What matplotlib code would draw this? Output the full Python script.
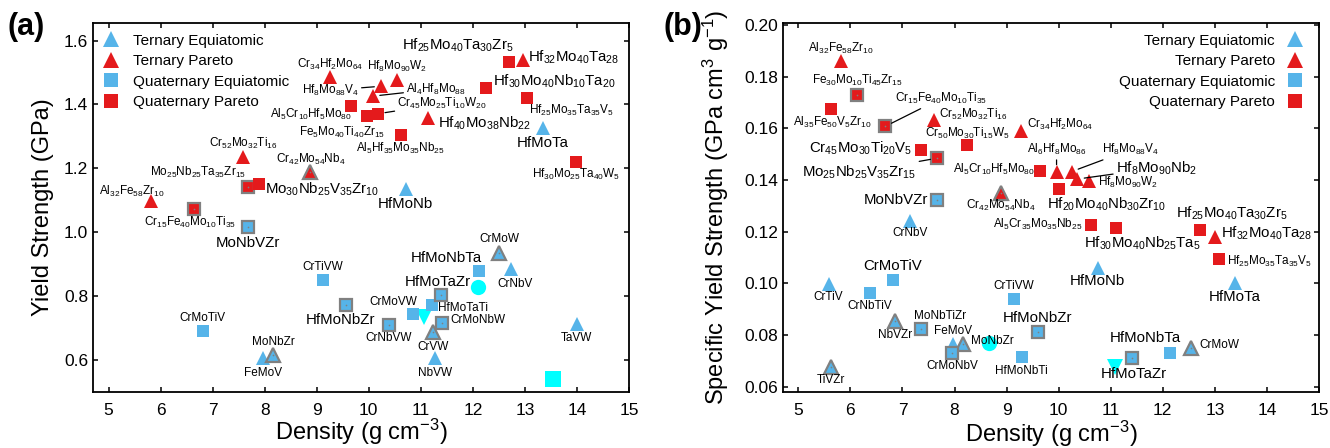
import re
import matplotlib.pyplot as plt
from matplotlib.lines import Line2D
from matplotlib.ticker import FormatStrFormatter

plt.rcParams['font.family'] = ['Liberation Sans', 'DejaVu Sans']
plt.rcParams['mathtext.fontset'] = 'custom'
plt.rcParams['mathtext.rm'] = 'Liberation Sans'
plt.rcParams['mathtext.it'] = 'Liberation Sans:italic'
plt.rcParams['mathtext.bf'] = 'Liberation Sans:bold'

BLUE = '#56B4E9'
RED = '#E41A1C'
CYAN = '#00FFFF'
GREY = '#808080'

# ---------------- panel (a): density vs yield strength ----------------
a_te_names = ['FeMoV', 'MoNbZr', 'CrVW', 'NbVW', 'CrMoW', 'CrNbV', 'TaVW', 'HfMoNb', 'HfMoTa']
a_te_x = [7.97, 8.16, 11.24, 11.28, 12.51, 12.73, 14.00, 10.71, 13.34]
a_te_y = [0.605, 0.616, 0.687, 0.606, 0.935, 0.885, 0.713, 1.136, 1.326]

a_tp_names = ['Al32Fe58Zr10', 'Cr52Mo32Ti16', 'Cr42Mo54Nb4', 'Cr34Hf2Mo64', 'Hf8Mo88V4',
              'Al4Hf8Mo88', 'Hf8Mo90W2', 'Hf40Mo38Nb22', 'Hf32Mo40Ta28']
a_tp_x = [5.82, 7.59, 8.88, 9.26, 10.24, 10.08, 10.54, 11.14, 12.97]
a_tp_y = [1.097, 1.235, 1.188, 1.486, 1.457, 1.426, 1.478, 1.359, 1.538]

a_qe_names = ['CrMoTiV', 'MoNbVZr', 'CrTiVW', 'HfMoNbZr', 'CrNbVW', 'CrMoVW', 'HfMoTaTi',
              'HfMoTaZr', 'CrMoNbW', 'HfMoNbTa']
a_qe_x = [6.81, 7.68, 9.12, 9.57, 10.38, 10.85, 11.22, 11.38, 11.41, 12.12]
a_qe_y = [0.692, 1.016, 0.851, 0.772, 0.710, 0.744, 0.772, 0.805, 0.715, 0.880]

a_qp_names = ['Cr15Fe40Mo10Ti35', 'Mo25Nb25Ta35Zr15', 'Mo30Nb25V35Zr10', 'Al5Cr10Hf5Mo80',
              'Fe5Mo40Ti40Zr15', 'Cr45Mo25Ti10W20', 'Al5Hf35Mo35Nb25', 'Hf30Mo40Nb10Ta20',
              'Hf25Mo40Ta30Zr5', 'Hf25Mo35Ta35V5', 'Hf30Mo25Ta40W5']
a_qp_x = [6.65, 7.68, 7.89, 9.65, 9.97, 10.18, 10.61, 12.25, 12.70, 13.05, 13.98]
a_qp_y = [1.073, 1.141, 1.152, 1.394, 1.363, 1.371, 1.303, 1.453, 1.533, 1.421, 1.219]

a_marked = ['MoNbZr', 'CrVW', 'CrMoW', 'Cr42Mo54Nb4', 'MoNbVZr', 'HfMoNbZr', 'CrNbVW',
            'HfMoTaZr', 'CrMoNbW', 'Cr15Fe40Mo10Ti35', 'Mo25Nb25Ta35Zr15']

a_cyan_marker = ['o', 'v', 's']
a_cyan_x = [12.09, 11.06, 13.54]
a_cyan_y = [0.828, 0.734, 0.540]

# ---------------- panel (b): density vs specific yield strength ----------------
b_te_names = ['CrTiV', 'TiVZr', 'NbVZr', 'CrNbV', 'FeMoV', 'MoNbZr', 'HfMoNb', 'CrMoW', 'HfMoTa']
b_te_x = [5.58, 5.63, 6.86, 7.14, 7.98, 8.17, 10.75, 12.55, 13.39]
b_te_y = [0.0998, 0.0678, 0.0855, 0.1240, 0.0764, 0.0764, 0.1059, 0.0749, 0.1001]

b_tp_names = ['Al32Fe58Zr10', 'Cr52Mo32Ti16', 'Cr42Mo54Nb4', 'Cr34Hf2Mo64', 'Al6Hf8Mo86',
              'Hf8Mo88V4', 'Hf8Mo90Nb2', 'Hf8Mo90W2', 'Hf32Mo40Ta28']
b_tp_x = [5.82, 7.61, 8.89, 9.28, 9.96, 10.25, 10.36, 10.58, 13.00]
b_tp_y = [0.1862, 0.1634, 0.1352, 0.1591, 0.1433, 0.1433, 0.1404, 0.1395, 0.1181]

b_qe_names = ['CrNbTiV', 'CrMoTiV', 'MoNbTiZr', 'MoNbVZr', 'CrMoNbV', 'CrTiVW', 'HfMoNbTi',
              'HfMoNbZr', 'HfMoTaZr', 'HfMoNbTa']
b_qe_x = [6.37, 6.81, 7.36, 7.67, 7.96, 9.14, 9.29, 9.60, 11.40, 12.14]
b_qe_y = [0.0962, 0.1012, 0.0824, 0.1324, 0.0732, 0.0939, 0.0714, 0.0811, 0.0712, 0.0730]

b_qp_names = ['Al35Fe50V5Zr10', 'Fe30Mo10Ti45Zr15', 'Cr15Fe40Mo10Ti35', 'Cr45Mo30Ti20V5',
              'Mo25Nb25V35Zr15', 'Cr50Mo30Ti15W5', 'Al5Cr10Hf5Mo80', 'Hf20Mo40Nb30Zr10',
              'Al5Cr35Mo35Nb25', 'Hf30Mo40Nb25Ta5', 'Hf25Mo40Ta30Zr5', 'Hf25Mo35Ta35V5']
b_qp_x = [5.63, 6.13, 6.67, 7.35, 7.67, 8.24, 9.65, 10.00, 10.62, 11.10, 12.72, 13.08]
b_qp_y = [0.1675, 0.1728, 0.1608, 0.1517, 0.1485, 0.1534, 0.1436, 0.1365, 0.1227,
          0.1214, 0.1205, 0.1094]

b_marked = ['TiVZr', 'NbVZr', 'MoNbZr', 'CrMoW', 'Cr42Mo54Nb4', 'MoNbTiZr', 'MoNbVZr',
            'CrMoNbV', 'HfMoNbZr', 'HfMoTaZr', 'Fe30Mo10Ti45Zr15', 'Cr15Fe40Mo10Ti35',
            'Mo25Nb25V35Zr15']

b_cyan_marker = ['o', 'v']
b_cyan_x = [8.66, 11.08]
b_cyan_y = [0.0768, 0.0678]

legend_names = ['Ternary Equiatomic', 'Ternary Pareto', 'Quaternary Equiatomic', 'Quaternary Pareto']

# label layout: name -> (dx px, dy px, large font?, leader line?)
a_labels = {
    'Al32Fe58Zr10': (-19, 10, 0, 0), 'Cr52Mo32Ti16': (0, 14, 0, 0),
    'Mo25Nb25Ta35Zr15': (-50, 15, 0, 0), 'Mo30Nb25V35Zr10': (63, -6, 1, 0),
    'Cr15Fe40Mo10Ti35': (-4, -14, 0, 0), 'MoNbVZr': (0, -16, 1, 0),
    'Cr42Mo54Nb4': (0, 13, 0, 0), 'CrMoTiV': (0, 13, 0, 0), 'FeMoV': (0, -15, 0, 0),
    'MoNbZr': (0, 13, 0, 0), 'CrTiVW': (0, 13, 0, 0), 'HfMoNbZr': (-6, -15, 1, 0),
    'CrNbVW': (0, -13, 0, 0), 'CrMoVW': (-20, 12, 0, 0), 'HfMoTaTi': (31, -3, 0, 0),
    'HfMoTaZr': (-3, 13, 1, 0), 'CrMoNbW': (36, 3, 0, 0), 'CrVW': (0, -15, 0, 0),
    'NbVW': (0, -15, 0, 0), 'HfMoNbTa': (-33, 13, 1, 0), 'CrMoW': (0, 14, 0, 0),
    'CrNbV': (4, -15, 0, 0), 'TaVW': (0, -14, 0, 0), 'HfMoNb': (0, -15, 1, 0),
    'HfMoTa': (0, -15, 1, 0), 'Hf30Mo25Ta40W5': (0, -12, 0, 0),
    'Hf25Mo35Ta35V5': (44, -13, 0, 0), 'Hf30Mo40Nb10Ta20': (68, 6, 1, 0),
    'Hf25Mo40Ta30Zr5': (-51, 17, 1, 0), 'Hf32Mo40Ta28': (50, 3, 1, 0),
    'Hf40Mo38Nb22': (56, -6, 1, 0), 'Al5Hf35Mo35Nb25': (0, -13, 0, 0),
    'Cr34Hf2Mo64': (0, 13, 0, 0), 'Hf8Mo90W2': (0, 13, 0, 0),
    'Hf8Mo88V4': (-51, -4, 0, 1), 'Al4Hf8Mo88': (63, 7, 0, 1),
    'Cr45Mo25Ti10W20': (64, 10, 0, 1), 'Fe5Mo40Ti40Zr15': (-25, -16, 0, 0),
    'Al5Cr10Hf5Mo80': (-40, -8, 0, 0),
}
b_labels = {
    'Al32Fe58Zr10': (0, 12, 0, 0), 'Fe30Mo10Ti45Zr15': (0, 15, 0, 0),
    'Al35Fe50V5Zr10': (1, -13, 0, 0), 'Cr15Fe40Mo10Ti35': (56, 28, 0, 1),
    'Cr45Mo30Ti20V5': (-60, 2, 1, 0), 'Mo25Nb25V35Zr15': (-78, -14, 1, 1),
    'Cr50Mo30Ti15W5': (0, 12, 0, 0), 'Cr52Mo32Ti16': (39, 5, 0, 0),
    'MoNbVZr': (-41, 0, 1, 0), 'Cr34Hf2Mo64': (39, 6, 0, 0),
    'Al6Hf8Mo86': (0, 22, 0, 1), 'Al5Cr10Hf5Mo80': (-47, 1, 0, 0),
    'Hf8Mo88V4': (59, 22, 0, 1), 'Hf8Mo90Nb2': (79, 11, 1, 1),
    'Hf8Mo90W2': (39, -1, 0, 0), 'Hf20Mo40Nb30Zr10': (48, -15, 1, 0),
    'Cr42Mo54Nb4': (0, -13, 0, 0), 'CrNbV': (0, -12, 0, 0),
    'Al5Cr35Mo35Nb25': (-53, 0, 0, 0), 'Hf30Mo40Nb25Ta5': (26, -15, 1, 0),
    'Hf25Mo40Ta30Zr5': (32, 17, 1, 0), 'Hf32Mo40Ta28': (52, 3, 1, 0),
    'Hf25Mo35Ta35V5': (50, -2, 0, 0), 'HfMoNb': (0, -13, 1, 0),
    'HfMoTa': (0, -14, 1, 0), 'CrTiVW': (0, 13, 0, 0), 'HfMoNbZr': (0, 14, 1, 0),
    'HfMoNbTi': (0, -14, 0, 0), 'HfMoNbTa': (-25, 15, 1, 0), 'HfMoTaZr': (2, -16, 1, 0),
    'CrMoW': (28, 3, 0, 0), 'MoNbZr': (29, 3, 0, 0), 'CrTiV': (0, -13, 0, 0),
    'CrNbTiV': (0, -13, 0, 0), 'CrMoTiV': (0, 14, 1, 0), 'NbVZr': (0, -14, 0, 0),
    'MoNbTiZr': (19, 13, 0, 0), 'FeMoV': (0, 13, 0, 0), 'CrMoNbV': (0, -13, 0, 0),
    'TiVZr': (0, -13, 0, 0),
}


def chem(name):
    return re.sub(r'(\d+)', r'$_{\1}$', name)


def draw_panel(ax, groups, marked, cyan, labels):
    pos = {}
    for names, xs, ys, mk, col in groups:
        for n, x, y in zip(names, xs, ys):
            pos[n] = (x, y)
            ms = 10.5 if mk == '^' else 9
            if n in marked:
                ax.plot(x, y, marker=mk, ms=ms, mfc=col, mec=GREY, mew=1.6, ls='none', zorder=3)
                ax.plot(x, y, marker='o', ms=1.2, mfc=GREY, mec='none', ls='none', zorder=4)
            else:
                ax.plot(x, y, marker=mk, ms=ms, mfc=col, mew=0, ls='none', zorder=3)
    for mk, x, y in zip(*cyan):
        ax.plot(x, y, marker=mk, ms=12 if mk == 's' else 11, mfc=CYAN, mew=0, ls='none', zorder=2)
    for n, (dx, dy, big, leader) in labels.items():
        kw = {}
        if leader:
            kw['arrowprops'] = dict(arrowstyle='-', lw=0.9, color='black', shrinkA=0, shrinkB=5)
        ax.annotate(chem(n), pos[n], xytext=(dx, dy), textcoords='offset pixels',
                    ha='center', va='center', fontsize=10.8 if big else 8.5, zorder=5, **kw)


def style(ax):
    ax.set_xlim(4.7, 15)
    ax.set_xticks(range(5, 16))
    for s in ax.spines.values():
        s.set_linewidth(1.3)
    ax.tick_params(direction='in', top=True, right=True, length=3.5, width=1.1, labelsize=12.5)
    ax.tick_params(axis='x', pad=8)


def legend_handles():
    return [Line2D([], [], marker='^', ls='none', ms=12, mfc=BLUE, mew=0),
            Line2D([], [], marker='^', ls='none', ms=12, mfc=RED, mew=0),
            Line2D([], [], marker='s', ls='none', ms=10, mfc=BLUE, mew=0),
            Line2D([], [], marker='s', ls='none', ms=10, mfc=RED, mew=0)]


fig = plt.figure(figsize=(13.3, 4.48), dpi=100)
ax1 = fig.add_axes([0.0699, 0.125, 0.403, 0.8237])
ax2 = fig.add_axes([0.5885, 0.125, 0.4032, 0.8237])

draw_panel(ax1, [(a_te_names, a_te_x, a_te_y, '^', BLUE), (a_tp_names, a_tp_x, a_tp_y, '^', RED),
                 (a_qe_names, a_qe_x, a_qe_y, 's', BLUE), (a_qp_names, a_qp_x, a_qp_y, 's', RED)],
           a_marked, (a_cyan_marker, a_cyan_x, a_cyan_y), a_labels)
draw_panel(ax2, [(b_te_names, b_te_x, b_te_y, '^', BLUE), (b_tp_names, b_tp_x, b_tp_y, '^', RED),
                 (b_qe_names, b_qe_x, b_qe_y, 's', BLUE), (b_qp_names, b_qp_x, b_qp_y, 's', RED)],
           b_marked, (b_cyan_marker, b_cyan_x, b_cyan_y), b_labels)

style(ax1)
ax1.set_ylim(0.5, 1.655)
ax1.set_yticks([0.6, 0.8, 1.0, 1.2, 1.4, 1.6])
ax1.yaxis.set_major_formatter(FormatStrFormatter('%.1f'))
ax1.set_xlabel('Density (g cm$^{-3}$)', fontsize=17, labelpad=-1)
ax1.set_ylabel('Yield Strength (GPa)', fontsize=17, labelpad=7)
ax1.legend(legend_handles(), legend_names, loc='upper left', frameon=False, fontsize=11,
           handlelength=1.0, handletextpad=0.9, labelspacing=0.43, borderaxespad=0.3)

style(ax2)
ax2.set_ylim(0.058, 0.2008)
ax2.set_yticks([0.06, 0.08, 0.10, 0.12, 0.14, 0.16, 0.18, 0.20])
ax2.yaxis.set_major_formatter(FormatStrFormatter('%.2f'))
ax2.set_xlabel('Density (g cm$^{-3}$)', fontsize=17, labelpad=0.5)
ax2.set_ylabel('Specific Yield Strength (GPa cm$^3$ g$^{-1}$)', fontsize=17, labelpad=9)
ax2.legend(legend_handles(), legend_names, loc='upper right', bbox_to_anchor=(0.989, 1),
           frameon=False, fontsize=11, handlelength=1.0, handletextpad=0.8,
           labelspacing=0.43, borderaxespad=0.3, markerfirst=False)

fig.text(0.006, 0.94, '(a)', fontsize=22, fontweight='bold', va='center')
fig.text(0.4985, 0.94, '(b)', fontsize=22, fontweight='bold', va='center')

fig.savefig('out.png', dpi=100)
